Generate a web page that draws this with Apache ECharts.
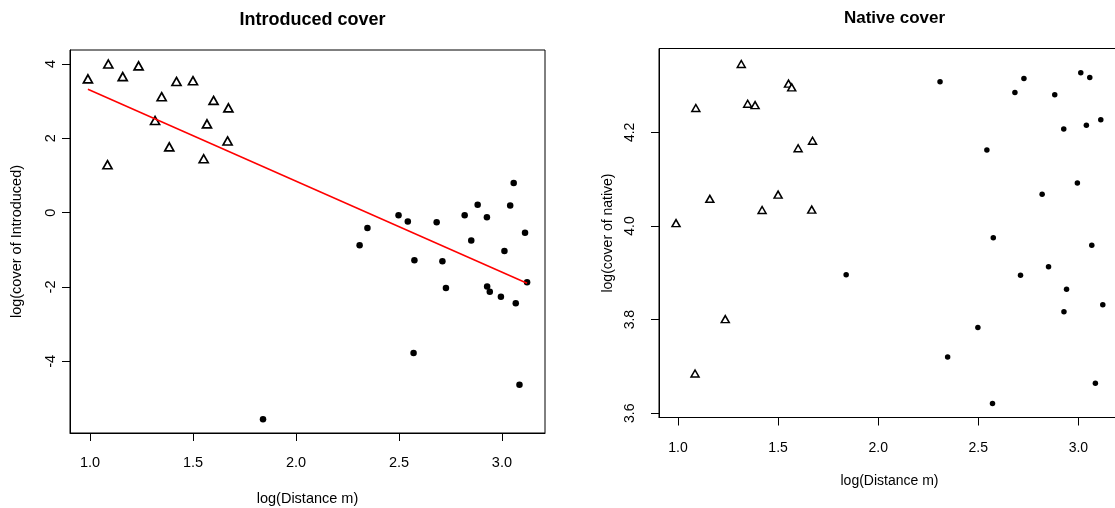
<!DOCTYPE html>
<html>
<head>
<meta charset="utf-8">
<title>Introduced and native cover vs distance</title>
<script src="https://cdn.jsdelivr.net/npm/echarts@6/dist/echarts.min.js"></script>
<style>
  html, body { margin: 0; padding: 0; background: #fff; }
  #chart { width: 1115px; height: 508px; }
</style>
</head>
<body>
<div id="chart"></div>
<script>
// log(distance) of plots near the source (open triangles) and far plots (filled dots)
const distNear = [0.99, 1.089, 1.085, 1.159, 1.236, 1.316, 1.348, 1.385, 1.42, 1.50, 1.552, 1.568, 1.60, 1.668, 1.672];
const introducedNear = [3.60, 4.00, 1.29, 3.66, 3.95, 2.48, 3.12, 1.77, 3.53, 3.55, 1.45, 2.39, 3.02, 1.93, 2.82];
const nativeNear = [4.006, 4.252, 3.685, 4.058, 3.801, 4.346, 4.261, 4.258, 4.034, 4.067, 4.304, 4.296, 4.166, 4.035, 4.182];

const distFar = [1.840, 2.309, 2.347, 2.498, 2.543, 2.571, 2.575, 2.683, 2.711, 2.728, 2.819, 2.851,
                 2.882, 2.927, 2.928, 2.941, 2.995, 3.012, 3.040, 3.057, 3.067, 3.085, 3.112, 3.122];
const introducedFar = [-5.56, -0.88, -0.415, -0.073, -0.235, -3.78, -1.28, -0.26, -1.31, -2.03, -0.073, -0.75,
                       0.21, -0.127, -1.99, -2.13, -2.26, -1.03, 0.19, 0.80, -2.44, -4.63, -0.54, -1.87];
const nativeFar = [3.896, 4.308, 3.720, 3.783, 4.162, 3.621, 3.975, 4.285, 3.895, 4.315, 4.068, 3.913,
                   4.280, 4.207, 3.817, 3.865, 4.092, 4.327, 4.215, 4.317, 3.959, 3.664, 4.227, 3.832];

// fitted regression of introduced cover on distance (end points)
const fitX = [0.99, 3.122];
const fitY = [3.32, -1.90];

// tick labels
const distTicks = [1.0, 1.5, 2.0, 2.5, 3.0];
const introducedTicks = [-4, -2, 0, 2, 4];
const nativeTicks = [3.6, 3.8, 4.0, 4.2];

const pairs = (xs, ys) => xs.map((x, i) => [x, ys[i]]);

const FONT = '"Liberation Sans", Arial, Helvetica, sans-serif';
const INK = '#000';

function xAxisFor(gridIndex, min, max, fontSize, margin, nameGap) {
  return {
    type: 'value', gridIndex, min, max,
    name: 'log(Distance m)', nameLocation: 'middle', nameGap,
    nameTextStyle: { fontFamily: FONT, fontSize, color: INK },
    axisLine: { show: true, onZero: false, lineStyle: { color: INK, width: 1 } },
    axisTick: { show: true, inside: false, length: 8, customValues: distTicks,
                lineStyle: { color: INK, width: 1 } },
    axisLabel: { customValues: distTicks, margin, fontFamily: FONT, fontSize, color: INK,
                 formatter: v => Number(v).toFixed(1) },
    splitLine: { show: false }
  };
}

function yAxisFor(gridIndex, min, max, name, ticks, fmt, fontSize, margin, nameGap) {
  return {
    type: 'value', gridIndex, min, max,
    name, nameLocation: 'middle', nameGap, nameRotate: 90,
    nameTextStyle: { fontFamily: FONT, fontSize, color: INK },
    axisLine: { show: true, onZero: false, lineStyle: { color: INK, width: 1 } },
    axisTick: { show: true, inside: false, length: 8, customValues: ticks,
                lineStyle: { color: INK, width: 1 } },
    axisLabel: { customValues: ticks, rotate: 90, margin, fontFamily: FONT, fontSize, color: INK,
                 formatter: fmt },
    splitLine: { show: false }
  };
}

const chart = echarts.init(document.getElementById('chart'), null, { renderer: 'canvas' });

chart.setOption({
  backgroundColor: '#ffffff',
  animation: false,
  title: [
    { text: 'Introduced cover', left: 307.5, top: 6, textAlign: 'center',
      textStyle: { fontFamily: FONT, fontSize: 18, fontWeight: 'bold', color: INK } },
    { text: 'Native cover', left: 889.5, top: 5, textAlign: 'center',
      textStyle: { fontFamily: FONT, fontSize: 17, fontWeight: 'bold', color: INK } }
  ],
  grid: [
    { left: 70, top: 50, width: 475, height: 383, show: true, outerBoundsMode: 'none', containLabel: false,
      borderColor: INK, borderWidth: 1, backgroundColor: 'transparent' },
    { left: 659, top: 48.5, width: 461, height: 369, show: true, outerBoundsMode: 'none', containLabel: false,
      borderColor: INK, borderWidth: 1, backgroundColor: 'transparent' }
  ],
  xAxis: [
    xAxisFor(0, 0.903, 3.209, 14.5, 22.5, 58.5),
    xAxisFor(1, 0.905, 3.208, 14, 23.5, 57)
  ],
  yAxis: [
    yAxisFor(0, -5.93, 4.377, 'log(cover of Introduced)', introducedTicks, v => String(v), 14.5, 12, 46),
    yAxisFor(1, 3.591, 4.379, 'log(cover of native)', nativeTicks, v => Number(v).toFixed(1), 14, 22, 44)
  ],
  series: [
    { type: 'scatter', xAxisIndex: 0, yAxisIndex: 0, data: pairs(distNear, introducedNear),
      symbol: 'triangle', symbolSize: [9, 8],
      itemStyle: { color: '#fff', borderColor: INK, borderWidth: 1.7, opacity: 1 }, z: 2 },
    { type: 'scatter', xAxisIndex: 0, yAxisIndex: 0, data: pairs(distFar, introducedFar),
      symbol: 'circle', symbolSize: 6.5, itemStyle: { color: INK, opacity: 1 }, z: 2 },
    { type: 'line', xAxisIndex: 0, yAxisIndex: 0, data: pairs(fitX, fitY),
      symbol: 'none', lineStyle: { color: '#ff0000', width: 1.5 }, z: 3 },
    { type: 'scatter', xAxisIndex: 1, yAxisIndex: 1, data: pairs(distNear, nativeNear),
      symbol: 'triangle', symbolSize: [8, 7],
      itemStyle: { color: '#fff', borderColor: INK, borderWidth: 1.5, opacity: 1 }, z: 2 },
    { type: 'scatter', xAxisIndex: 1, yAxisIndex: 1, data: pairs(distFar, nativeFar),
      symbol: 'circle', symbolSize: 5.5, itemStyle: { color: INK, opacity: 1 }, z: 2 }
  ]
});
</script>
</body>
</html>
